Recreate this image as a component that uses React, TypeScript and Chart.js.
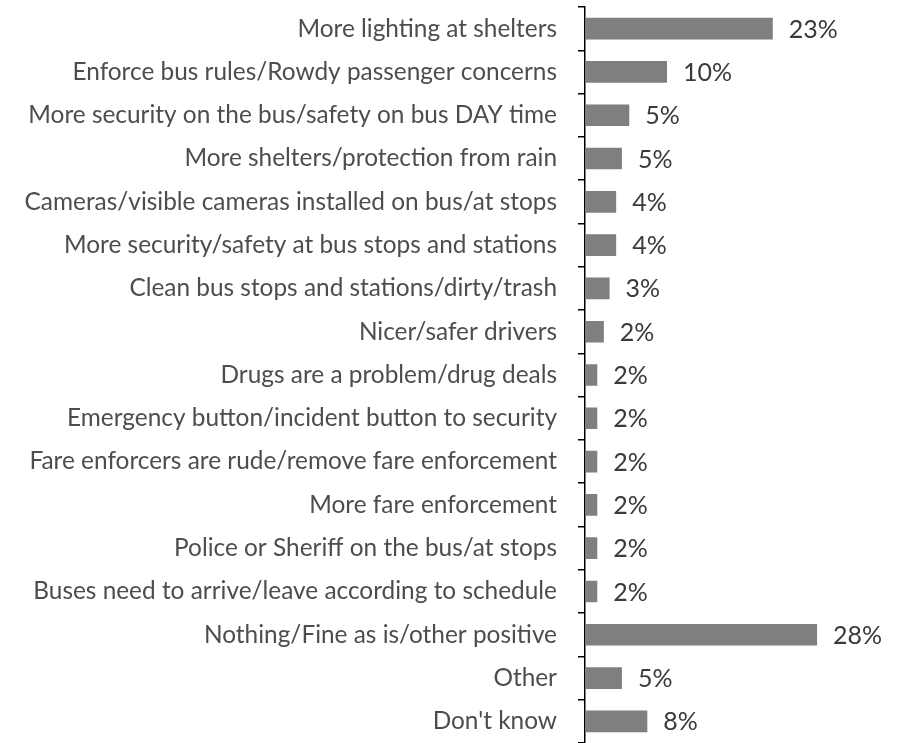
import React, { useEffect, useRef } from "react";
import { Chart, registerables } from "chart.js";

Chart.register(...registerables);

const categories = [
  "More lighting at shelters",
  "Enforce bus rules/Rowdy passenger concerns",
  "More security on the bus/safety on bus DAY time",
  "More shelters/protection from rain",
  "Cameras/visible cameras installed on bus/at stops",
  "More security/safety at bus stops and stations",
  "Clean bus stops and stations/dirty/trash",
  "Nicer/safer drivers",
  "Drugs are a problem/drug deals",
  "Emergency button/incident button to security",
  "Fare enforcers are rude/remove fare enforcement",
  "More fare enforcement",
  "Police or Sheriff on the bus/at stops",
  "Buses need to arrive/leave according to schedule",
  "Nothing/Fine as is/other positive",
  "Other",
  "Don't know",
];

const values = [22.9, 10.0, 5.4, 4.5, 3.8, 3.8, 3.0, 2.3, 1.5, 1.5, 1.5, 1.5, 1.5, 1.5, 28.3, 4.5, 7.6];

const valueLabels = ["23%", "10%", "5%", "5%", "4%", "4%", "3%", "2%", "2%", "2%", "2%", "2%", "2%", "2%", "28%", "5%", "8%"];

const FONT = "Lato, 'Open Sans', sans-serif";

const valueLabelPlugin = {
  id: "valueLabels",
  afterDatasetsDraw(chart: any) {
    const ctx = chart.ctx;
    const meta = chart.getDatasetMeta(0);
    ctx.save();
    ctx.font = `25px ${FONT}`;
    ctx.fillStyle = "#3a3a3a";
    ctx.textAlign = "left";
    ctx.textBaseline = "middle";
    meta.data.forEach((bar: any, i: number) => {
      ctx.fillText(valueLabels[i], bar.x + 16, bar.y + 1);
    });
    ctx.restore();
  },
};

export default function App() {
  const ref = useRef<HTMLCanvasElement | null>(null);
  useEffect(() => {
    if (!ref.current) return;
    const chart = new Chart(ref.current, {
      type: "bar",
      data: {
        labels: categories,
        datasets: [
          {
            data: values,
            backgroundColor: "#7f7f7f",
            borderWidth: 0,
            barPercentage: 0.5,
            categoryPercentage: 1,
          },
        ],
      },
      options: {
        indexAxis: "y",
        animation: false,
        responsive: true,
        maintainAspectRatio: false,
        devicePixelRatio: 1,
        layout: { padding: { top: 7, bottom: 0, left: 0, right: 9.4 } },
        plugins: {
          legend: { display: false },
          tooltip: { enabled: false },
        },
        scales: {
          x: { display: false, min: 0, max: 38 },
          y: {
            position: "left",
            afterFit(scale: any) {
              scale.width = 585;
              scale.paddingTop = 0;
              scale.paddingBottom = 0;
            },
            border: { display: true, color: "#000000", width: 1.5 },
            grid: {
              display: true,
              offset: true,
              drawOnChartArea: false,
              drawTicks: true,
              tickLength: 7,
              color: "#000000",
              lineWidth: 1.5,
            },
            ticks: {
              padding: 21,
              color: "#4d4d4d",
              font: { family: FONT, size: 24.4 },
              autoSkip: false,
            },
          },
        },
      },
      plugins: [valueLabelPlugin],
    });
    return () => chart.destroy();
  }, []);
  return (
    <div style={{ position: "absolute", left: 0, top: 0, width: 906, height: 743 }}>
      <canvas ref={ref} />
    </div>
  );
}
